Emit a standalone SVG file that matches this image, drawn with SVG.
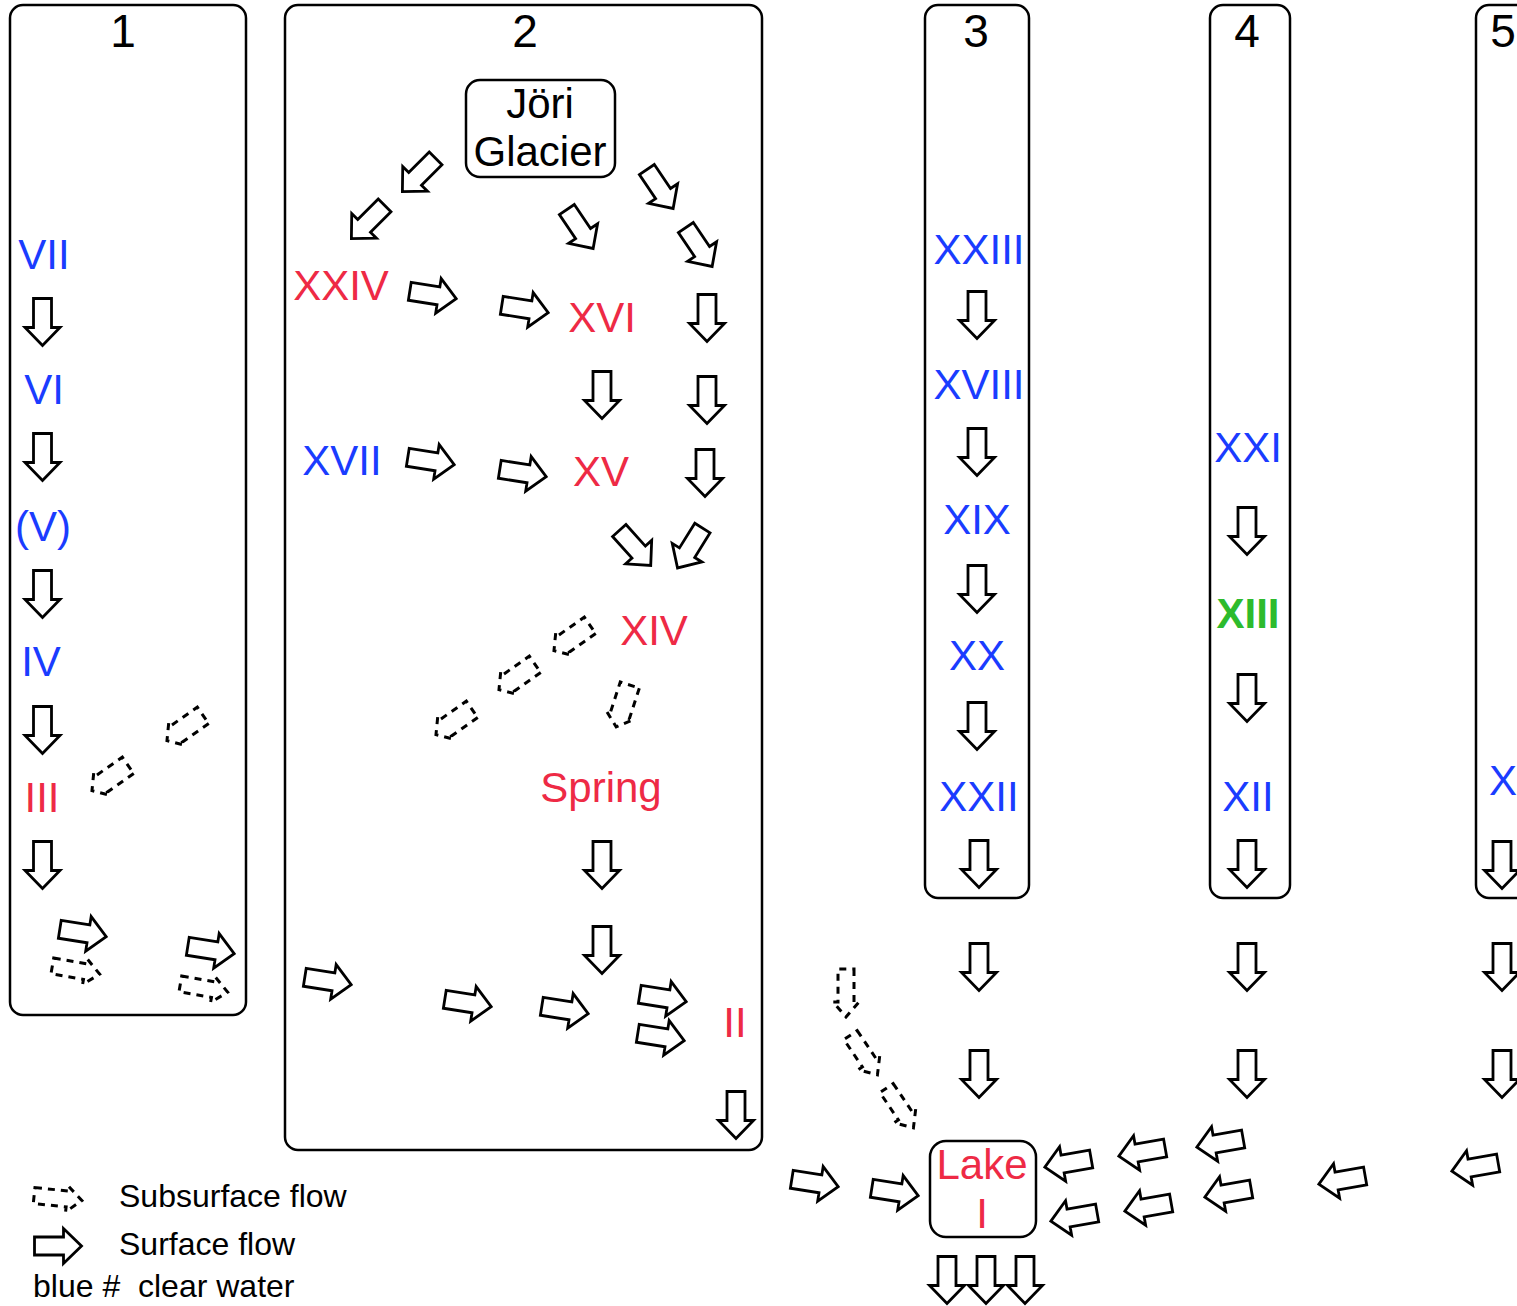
<svg xmlns="http://www.w3.org/2000/svg" width="1517" height="1306" viewBox="0 0 1517 1306">
<style>
.box{fill:none;stroke:#000;stroke-width:2.5}
.sa{fill:#fff;stroke:#000;stroke-width:2.8}
.da{fill:none;stroke:#000;stroke-width:3;stroke-dasharray:7 6}
.t{font-family:"Liberation Sans",Arial,sans-serif;font-size:42px;text-anchor:middle;fill:#000}
.n{font-size:46px}
.lg{font-family:"Liberation Sans",Arial,sans-serif;font-size:32px;fill:#000}
.b{fill:#1a3cff}
.r{fill:#ee2a45}
.g{fill:#2dbb2d;font-weight:bold}
</style>
<defs>
<path id="sa" d="M-23.5,-9 H5.5 V-17.5 L23.5,0 L5.5,17.5 V9 H-23.5 Z"/>
<path id="da" d="M-24,-8 H9 V-13 L24,0 L9,13 V8 H-24 Z"/>
<path id="db" d="M-22,-10 H10 V-14 L22,0 L10,14 V10 H-22 Z"/>
</defs>
<rect width="1517" height="1306" fill="#fff"/>

<g id="columns">
<g id="col1"><rect class="box" x="10" y="5" width="236" height="1010" rx="13"/><text class="t n" x="123" y="47">1</text></g>
<g id="col2"><rect class="box" x="285" y="5" width="477" height="1145" rx="13"/><text class="t n" x="525" y="47">2</text></g>
<g id="col3"><rect class="box" x="925" y="5" width="104" height="893" rx="13"/><text class="t n" x="976" y="47">3</text></g>
<g id="col4"><rect class="box" x="1210" y="5" width="80" height="893" rx="13"/><text class="t n" x="1247" y="47">4</text></g>
<g id="col5"><rect class="box" x="1476" y="5" width="70" height="893" rx="13"/><text class="t n" x="1503" y="47">5</text></g>
</g>

<g id="node-glacier"><rect class="box" x="466" y="80" width="149" height="97" rx="14"/><text class="t" x="540" y="118">Jöri</text><text class="t" x="540" y="166">Glacier</text></g>
<g id="node-lake"><rect class="box" x="930" y="1141" width="106" height="96" rx="16"/><text class="t r" x="982" y="1179">Lake</text><text class="t r" x="982" y="1228">I</text></g>

<g id="node-VII"><text class="t b" x="44" y="269">VII</text></g>
<g id="node-VI"><text class="t b" x="44" y="404">VI</text></g>
<g id="node-V"><text class="t b" x="43" y="541">(V)</text></g>
<g id="node-IV"><text class="t b" x="41" y="676">IV</text></g>
<g id="node-III"><text class="t r" x="42" y="812">III</text></g>
<g id="node-XXIV"><text class="t r" x="341" y="300">XXIV</text></g>
<g id="node-XVI"><text class="t r" x="602" y="332">XVI</text></g>
<g id="node-XVII"><text class="t b" x="342" y="475">XVII</text></g>
<g id="node-XV"><text class="t r" x="601" y="486">XV</text></g>
<g id="node-XIV"><text class="t r" x="654" y="645">XIV</text></g>
<g id="node-Spring"><text class="t r" x="601" y="802">Spring</text></g>
<g id="node-II"><text class="t r" x="735" y="1037">II</text></g>
<g id="node-XXIII"><text class="t b" x="979" y="264">XXIII</text></g>
<g id="node-XVIII"><text class="t b" x="979" y="399">XVIII</text></g>
<g id="node-XIX"><text class="t b" x="977" y="534">XIX</text></g>
<g id="node-XX"><text class="t b" x="977" y="670">XX</text></g>
<g id="node-XXII"><text class="t b" x="979" y="811">XXII</text></g>
<g id="node-XXI"><text class="t b" x="1248" y="462">XXI</text></g>
<g id="node-XIII"><text class="t g" x="1248" y="628">XIII</text></g>
<g id="node-XII"><text class="t b" x="1248" y="811">XII</text></g>
<g id="node-X"><text class="t b" x="1489" y="795" style="text-anchor:start">X</text></g>

<g id="connectors">
<!-- column 1 -->
<use href="#sa" class="sa" transform="translate(42.5,322) rotate(90)"/>
<use href="#sa" class="sa" transform="translate(42.5,457) rotate(90)"/>
<use href="#sa" class="sa" transform="translate(42.5,594) rotate(90)"/>
<use href="#sa" class="sa" transform="translate(42.5,730) rotate(90)"/>
<use href="#sa" class="sa" transform="translate(42.5,865) rotate(90)"/>
<use href="#db" class="da" transform="translate(185,728) rotate(145)"/>
<use href="#db" class="da" transform="translate(110,778) rotate(145)"/>
<use href="#sa" class="sa" transform="translate(83,933) rotate(9)"/>
<use href="#sa" class="sa" transform="translate(211,950) rotate(9)"/>
<use href="#da" class="da" transform="translate(76,970) rotate(10)"/>
<use href="#da" class="da" transform="translate(204,988) rotate(10)"/>
<!-- column 2 -->
<use href="#sa" class="sa" transform="translate(419,175) rotate(135)"/>
<use href="#sa" class="sa" transform="translate(368,222) rotate(135)"/>
<use href="#sa" class="sa" transform="translate(580,229) rotate(56)"/>
<use href="#sa" class="sa" transform="translate(660,189) rotate(56)"/>
<use href="#sa" class="sa" transform="translate(699,247) rotate(56)"/>
<use href="#sa" class="sa" transform="translate(433,295) rotate(9)"/>
<use href="#sa" class="sa" transform="translate(525,309) rotate(9)"/>
<use href="#sa" class="sa" transform="translate(707,318) rotate(90)"/>
<use href="#sa" class="sa" transform="translate(602,395) rotate(90)"/>
<use href="#sa" class="sa" transform="translate(707,400) rotate(90)"/>
<use href="#sa" class="sa" transform="translate(431,461) rotate(9)"/>
<use href="#sa" class="sa" transform="translate(523,473) rotate(9)"/>
<use href="#sa" class="sa" transform="translate(705,473) rotate(90)"/>
<use href="#sa" class="sa" transform="translate(635,548) rotate(48)"/>
<use href="#sa" class="sa" transform="translate(690,548) rotate(122)"/>
<use href="#db" class="da" transform="translate(572,638) rotate(145)"/>
<use href="#db" class="da" transform="translate(517,677) rotate(145)"/>
<use href="#db" class="da" transform="translate(454,722) rotate(145)"/>
<use href="#db" class="da" transform="translate(623,706) rotate(108)"/>
<use href="#sa" class="sa" transform="translate(602,865) rotate(90)"/>
<use href="#sa" class="sa" transform="translate(602,950) rotate(90)"/>
<use href="#sa" class="sa" transform="translate(328,981) rotate(9)"/>
<use href="#sa" class="sa" transform="translate(468,1003) rotate(9)"/>
<use href="#sa" class="sa" transform="translate(565,1010) rotate(9)"/>
<use href="#sa" class="sa" transform="translate(663,998) rotate(9)"/>
<use href="#sa" class="sa" transform="translate(661,1037) rotate(9)"/>
<use href="#sa" class="sa" transform="translate(736,1115) rotate(90)"/>
<!-- column 3 -->
<use href="#sa" class="sa" transform="translate(977,315) rotate(90)"/>
<use href="#sa" class="sa" transform="translate(977,452) rotate(90)"/>
<use href="#sa" class="sa" transform="translate(977,589) rotate(90)"/>
<use href="#sa" class="sa" transform="translate(977,726) rotate(90)"/>
<use href="#sa" class="sa" transform="translate(979,864) rotate(90)"/>
<use href="#sa" class="sa" transform="translate(979,967) rotate(90)"/>
<use href="#sa" class="sa" transform="translate(979,1074) rotate(90)"/>
<!-- column 4 -->
<use href="#sa" class="sa" transform="translate(1247,531) rotate(90)"/>
<use href="#sa" class="sa" transform="translate(1247,698) rotate(90)"/>
<use href="#sa" class="sa" transform="translate(1247,864) rotate(90)"/>
<use href="#sa" class="sa" transform="translate(1247,967) rotate(90)"/>
<use href="#sa" class="sa" transform="translate(1247,1074) rotate(90)"/>
<!-- column 5 -->
<use href="#sa" class="sa" transform="translate(1502,865) rotate(90)"/>
<use href="#sa" class="sa" transform="translate(1502,967) rotate(90)"/>
<use href="#sa" class="sa" transform="translate(1502,1074) rotate(90)"/>
<!-- into lake -->
<use href="#da" class="da" transform="translate(846,993) rotate(90)"/>
<use href="#da" class="da" transform="translate(864,1055) rotate(56)"/>
<use href="#da" class="da" transform="translate(900,1108) rotate(56)"/>
<use href="#sa" class="sa" transform="translate(815,1183) rotate(9)"/>
<use href="#sa" class="sa" transform="translate(895,1192) rotate(9)"/>
<use href="#sa" class="sa" transform="translate(1068,1163) rotate(170)"/>
<use href="#sa" class="sa" transform="translate(1074,1217) rotate(170)"/>
<use href="#sa" class="sa" transform="translate(1142,1152) rotate(170)"/>
<use href="#sa" class="sa" transform="translate(1148,1207) rotate(170)"/>
<use href="#sa" class="sa" transform="translate(1220,1143) rotate(170)"/>
<use href="#sa" class="sa" transform="translate(1228,1193) rotate(170)"/>
<use href="#sa" class="sa" transform="translate(1342,1180) rotate(170)"/>
<use href="#sa" class="sa" transform="translate(1475,1167) rotate(170)"/>
<!-- lake outlet -->
<use href="#sa" class="sa" transform="translate(947,1280) rotate(90)"/>
<use href="#sa" class="sa" transform="translate(986,1280) rotate(90)"/>
<use href="#sa" class="sa" transform="translate(1025,1280) rotate(90)"/>
</g>

<g id="legend">
<use href="#da" class="da" transform="translate(58,1198) rotate(6)"/>
<use href="#sa" class="sa" transform="translate(58,1246)"/>
<text class="lg" x="119" y="1207">Subsurface flow</text>
<text class="lg" x="119" y="1255">Surface flow</text>
<text class="lg" x="33" y="1297" xml:space="preserve">blue #  clear water</text>
</g>
</svg>
